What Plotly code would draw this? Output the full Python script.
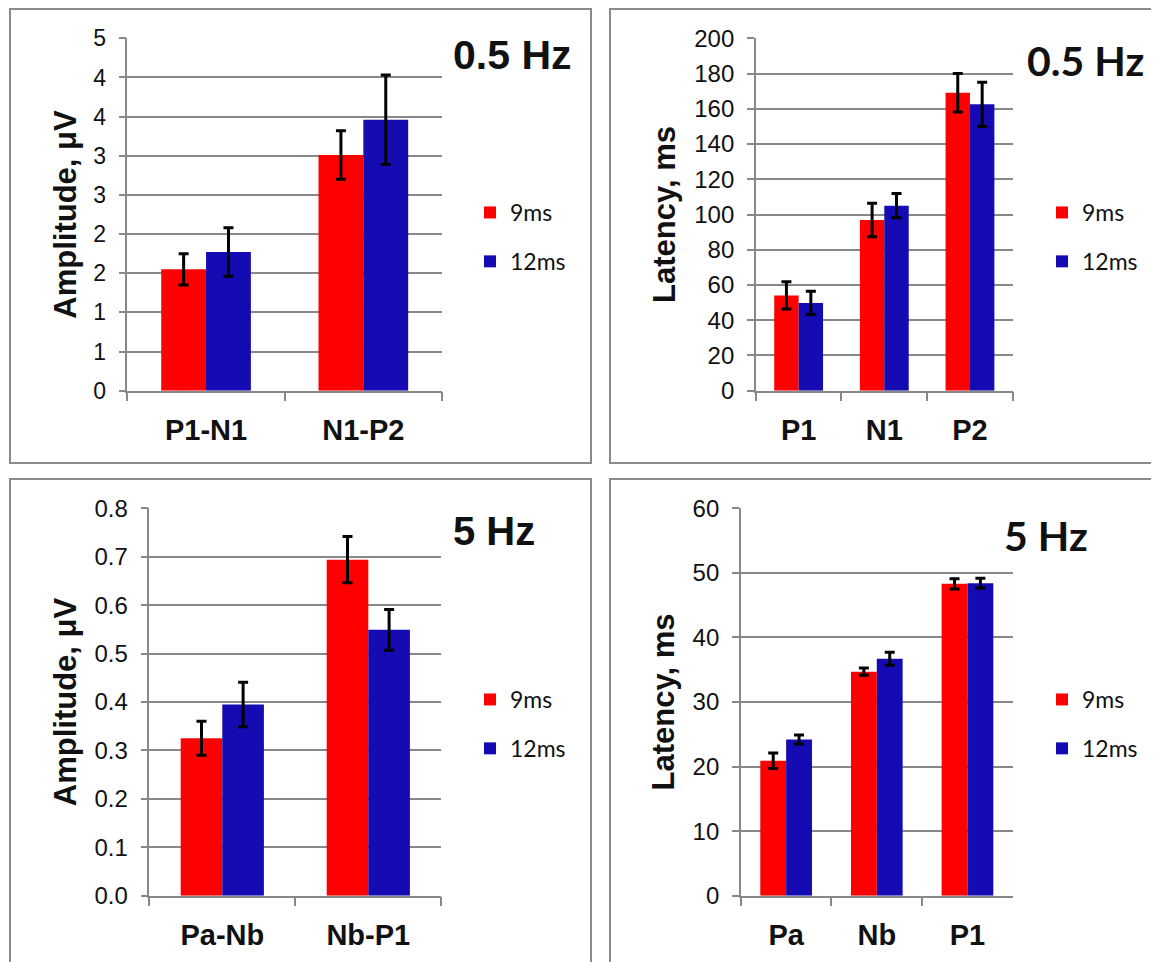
import plotly.graph_objects as go

# ---------------- data ----------------
series_names = ["9ms", "12ms"]

amp05_cats = ["P1-N1", "N1-P2"]
amp05_9 = [1.55, 3.01]
amp05_9_err = [0.20, 0.31]
amp05_12 = [1.77, 3.46]
amp05_12_err = [0.31, 0.57]
amp05_tickvals = [0, 0.5, 1.0, 1.5, 2.0, 2.5, 3.0, 3.5, 4.0, 4.5]
amp05_ticktext = ["0", "1", "1", "2", "2", "3", "3", "4", "4", "5"]

lat05_cats = ["P1", "N1", "P2"]
lat05_9 = [54.1, 96.9, 169.1]
lat05_9_err = [7.7, 9.5, 10.9]
lat05_12 = [49.8, 105.0, 162.5]
lat05_12_err = [6.6, 6.9, 12.5]

amp5_cats = ["Pa-Nb", "Nb-P1"]
amp5_9 = [0.325, 0.694]
amp5_9_err = [0.035, 0.048]
amp5_12 = [0.395, 0.549]
amp5_12_err = [0.046, 0.042]

lat5_cats = ["Pa", "Nb", "P1"]
lat5_9 = [20.9, 34.7, 48.3]
lat5_9_err = [1.2, 0.55, 0.8]
lat5_12 = [24.2, 36.7, 48.4]
lat5_12_err = [0.7, 1.0, 0.75]

panel_titles = ["0.5 Hz", "0.5 Hz", "5 Hz", "5 Hz"]
y_titles = ["Amplitude, μV", "Latency, ms", "Amplitude, μV", "Latency, ms"]

# ---------------- style ----------------
W, H = 1159, 962
OFF = 8  # page body margin of the browser
RED = "#FF0000"
BLUE = "#140CB2"
GRID = "#888888"
ARIAL = "Liberation Sans, Arial, sans-serif"
CALIBRI = "Lato, Open Sans, sans-serif"
CAT_FONT = dict(family=ARIAL, size=29, color="#111111", weight=700)
YT_FONT = dict(family=ARIAL, size=31, color="#111111", weight=700)
LEG_FONT = dict(family=CALIBRI, size=23, color="#111111")
tick_sizes = [23, 24, 24, 24]
hz_fonts = [
    dict(family=ARIAL, size=41, color="#111111", weight=700),
    dict(family=CALIBRI, size=41, color="#111111", weight=700),
    dict(family=ARIAL, size=40, color="#111111", weight=700),
    dict(family=CALIBRI, size=41, color="#111111", weight=700),
]


def px_x(v):
    return (v - OFF) / W


def px_y(v):
    return 1 - (v - OFF) / H


# pixel geometry of the four panels: (x0, x1, ytop, ybottom)
panels = [
    (127.4, 442.0, 38.3, 390.7),
    (755.8, 1012.8, 38.3, 390.7),
    (149.3, 441.3, 508.3, 895.7),
    (740.8, 1012.8, 508.3, 895.7),
]
boxes = [
    (10, 591, 9, 463),
    (610, 1200, 9, 463),
    (10, 591, 479, 1000),
    (610, 1200, 479, 1000),
]
hz_pos = [(451, 55), (1025, 61), (451, 531), (1002, 535)]
legend_pos = [(470, 191), (1042, 191), (470, 678), (1042, 678)]

data_sets = [
    (amp05_cats, amp05_9, amp05_9_err, amp05_12, amp05_12_err),
    (lat05_cats, lat05_9, lat05_9_err, lat05_12, lat05_12_err),
    (amp5_cats, amp5_9, amp5_9_err, amp5_12, amp5_12_err),
    (lat5_cats, lat5_9, lat5_9_err, lat5_12, lat5_12_err),
]

fig = go.Figure()
legend_names = ["legend", "legend2", "legend3", "legend4"]

for i, (cats, v9, e9, v12, e12) in enumerate(data_sets):
    xa = "x" if i == 0 else f"x{i+1}"
    ya = "y" if i == 0 else f"y{i+1}"
    for name, vals, errs, col in [(series_names[0], v9, e9, RED), (series_names[1], v12, e12, BLUE)]:
        fig.add_trace(go.Bar(
            x=cats, y=vals, name=name,
            marker=dict(color=col, line=dict(width=0)),
            error_y=dict(type="data", array=errs, color="black", thickness=3, width=5),
            xaxis=xa, yaxis=ya,
            legend=legend_names[i], legendgroup=f"{i}-{name}",
        ))

layout = dict(
    template="none",
    width=W, height=H,
    margin=dict(l=0, r=0, t=0, b=0, pad=0, autoexpand=False),
    paper_bgcolor="white", plot_bgcolor="white",
    barmode="group", bargap=0.43, bargroupgap=0,
    showlegend=True,
)

y_ranges = [[0, 4.5], [0, 200], [0, 0.8], [0, 60]]
y_dticks = [0.5, 20, 0.1, 10]
y_standoffs = [7, 9, 9, 9]

for i in range(4):
    x0, x1, yt, yb = panels[i]
    sx = "" if i == 0 else str(i + 1)
    xaxis = dict(
        domain=[px_x(x0), px_x(x1)], anchor=f"y{sx}", automargin=False,
        showline=True, linecolor=GRID, linewidth=1.5,
        ticks="outside", tickson="boundaries", ticklen=9, tickcolor=GRID, tickwidth=1.5,
        tickfont=CAT_FONT, ticklabelstandoff=13, showgrid=False, fixedrange=True,
    )
    yaxis = dict(
        domain=[px_y(yb), px_y(yt)], anchor=f"x{sx}", automargin=False,
        range=y_ranges[i], dtick=y_dticks[i], tick0=0,
        showline=True, linecolor=GRID, linewidth=1.5,
        showgrid=True, gridcolor=GRID, gridwidth=1.5,
        ticks="outside", ticklen=7, tickcolor=GRID, tickwidth=1.5,
        tickfont=dict(family=ARIAL, size=tick_sizes[i], color="#111111"), ticklabelstandoff=8,
        title=dict(text=y_titles[i], font=YT_FONT, standoff=y_standoffs[i]),
        zeroline=False, fixedrange=True,
    )
    if i == 0:
        yaxis.update(tickmode="array", tickvals=amp05_tickvals, ticktext=amp05_ticktext)
    if i == 2:
        yaxis.update(tickformat=".1f")
    layout[f"xaxis{sx}"] = xaxis
    layout[f"yaxis{sx}"] = yaxis
    lx, ly = legend_pos[i]
    layout[legend_names[i]] = dict(
        x=px_x(lx), y=px_y(ly), xanchor="left", yanchor="top",
        font=LEG_FONT, bgcolor="rgba(0,0,0,0)", borderwidth=0,
        tracegroupgap=16, itemclick=False, itemdoubleclick=False,
    )

fig.update_layout(**layout)

for i in range(4):
    bx0, bx1, by0, by1 = boxes[i]
    fig.add_shape(type="rect", xref="paper", yref="paper",
                  x0=px_x(bx0), x1=px_x(bx1), y0=px_y(by1), y1=px_y(by0),
                  line=dict(color="#8a8a8a", width=2), fillcolor="rgba(0,0,0,0)", layer="below")
    hx, hy = hz_pos[i]
    fig.add_annotation(text=panel_titles[i], xref="paper", yref="paper",
                       x=px_x(hx), y=px_y(hy), xanchor="left", yanchor="middle",
                       showarrow=False, font=hz_fonts[i])

fig.write_html("out.html")
